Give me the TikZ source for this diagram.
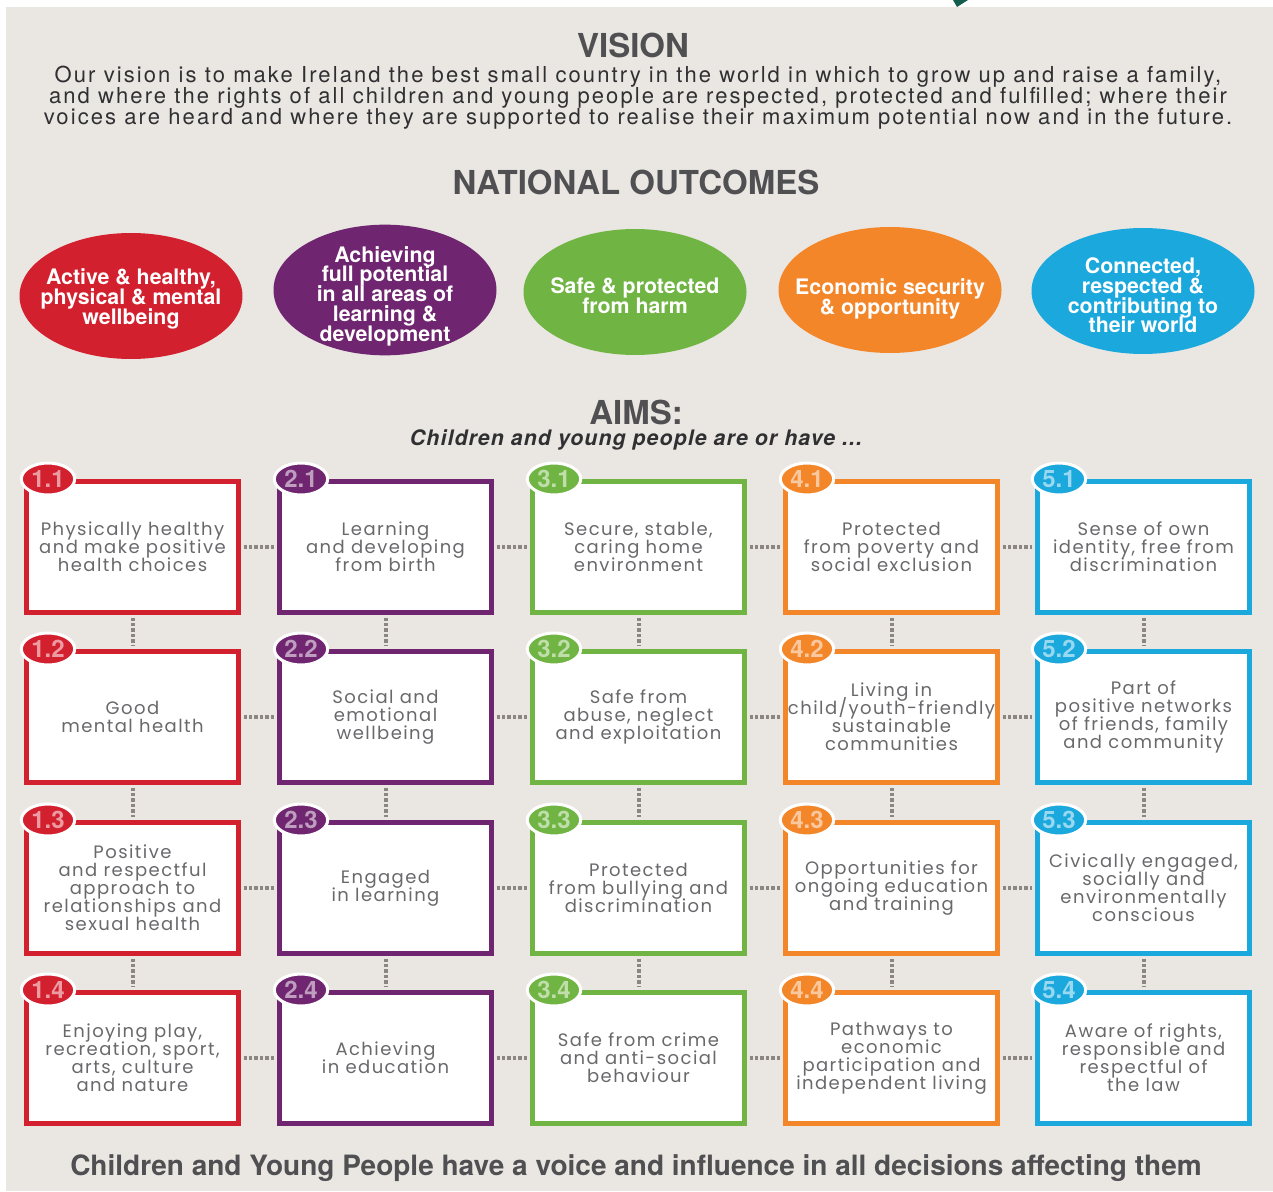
\documentclass[tikz,border=0pt]{standalone}
\usepackage{fontspec}
\usetikzlibrary{shapes.geometric}

\setmainfont{TeX Gyre Heros}
\newfontfamily\bodyfont[LetterSpace=9.5]{TeX Gyre Heros}
\newfontfamily\subfont[LetterSpace=5]{TeX Gyre Heros}
\newfontfamily\gothfont[LetterSpace=8]{Poppins}
\newcommand\tightlines{\lineskiplimit -8pt\relax}

\definecolor{bggrey}{RGB}{234,231,227}
\definecolor{headgrey}{RGB}{80,80,83}
\definecolor{bodygrey}{RGB}{48,48,50}
\definecolor{boxgrey}{RGB}{105,105,108}
\definecolor{dotgrey}{RGB}{140,134,128}
\definecolor{cteal}{RGB}{20,92,76}
\definecolor{cred}{RGB}{211,32,47}
\definecolor{cpurple}{RGB}{111,37,111}
\definecolor{cgreen}{RGB}{112,181,67}
\definecolor{corange}{RGB}{244,134,42}
\definecolor{cblue}{RGB}{27,168,221}

\tikzset{
  heading/.style={text=headgrey, font=\bfseries\fontsize{24.75}{24.75}\selectfont},
  outcome/.style={ellipse, fill=#1, minimum width=167.25pt, minimum height=94.5pt, inner sep=0pt},
  outtext/.style={text=white, align=center, inner sep=0pt,
    font={\bfseries\fontsize{16}{14.8}\selectfont\tightlines}},
  aimbox/.style={rectangle, draw=#1, fill=white, line width=3.75pt, minimum width=159pt, minimum height=98.25pt,
    inner sep=0pt, align=center, text=boxgrey, font={\gothfont\fontsize{13.5}{13.5}\selectfont\tightlines}},
  badge/.style={ellipse, fill=#1, draw=white, line width=2.25pt, minimum width=40pt, minimum height=24pt,
    inner sep=0pt, text=#1!45!white, font=\bfseries\fontsize{18}{18}\selectfont},
  link/.style={draw=dotgrey, line width=3pt, dash pattern=on 2.6pt off 1.5pt, shorten <=1.9pt, shorten >=1.9pt},
}

\begin{document}
\begin{tikzpicture}[x=0.75pt,y=0.75pt,yscale=-1,xscale=1]
\useasboundingbox (0,0) rectangle (1273,1191);
%Background
\fill [bggrey] (6,7) rectangle (1273,1191);
%Shape: corner mark
\fill [cteal] (953,0) -- (968,0) -- (957,7) -- cycle;

% Text Node
\node [heading] (vision) at (633,45) {VISION};
% Text Node
\node [text=bodygrey, align=center, font={\bodyfont\fontsize{16.5}{15.75}\selectfont\tightlines}] (visiontext) at (638,98)
  {Our vision is to make Ireland the best small country in the world in which to grow up and raise a family,\\
   and where the rights of all children and young people are respected, protected and fulfilled; where their\\
   voices are heard and where they are supported to realise their maximum potential now and in the future.};
% Text Node
\node [heading] (outcomes) at (636,182) {NATIONAL OUTCOMES};

%Shape: Ellipse
\node [outcome=cred] (o1) at (131,296) {};
\node [outtext] (t1) at ([yshift=2.25pt]o1) {Active \& healthy,\\physical \& mental\\wellbeing};
%Shape: Ellipse
\node [outcome=cpurple, minimum height=98pt] (o2) at (385,290) {};
\node [outtext] (t2) at ([yshift=4.5pt]o2) {Achieving\\full potential\\in all areas of\\learning \&\\development};
%Shape: Ellipse
\node [outcome=cgreen] (o3) at (635,292) {};
\node [outtext] (t3) at ([yshift=3pt]o3) {Safe \& protected\\from harm};
%Shape: Ellipse
\node [outcome=corange] (o4) at (890,290) {};
\node [outtext] (t4) at ([yshift=6.5pt]o4) {Economic security\\\& opportunity};
%Shape: Ellipse
\node [outcome=cblue] (o5) at (1143,291) {};
\node [outtext] (t5) at ([yshift=3.4pt]o5) {Connected,\\respected \&\\contributing to\\their world};

% Text Node
\node [heading] (aims) at (636,412) {AIMS:};
% Text Node
\node [text=bodygrey, font={\subfont\bfseries\itshape\fontsize{16}{16}\selectfont}] (aimsub) at (636,440)
  {Children and young people are or have ...};

%Aims: row 1
\node [aimbox=cred] (b11) at (132.5,547) {Physically healthy\\and make positive\\health choices};
\node [aimbox=cpurple] (b21) at (385.5,547) {Learning\\and developing\\from birth};
\node [aimbox=cgreen] (b31) at (638.5,547) {Secure, stable,\\caring home\\environment};
\node [aimbox=corange] (b41) at (891.5,547) {Protected\\from poverty and\\social exclusion};
\node [aimbox=cblue] (b51) at (1143.5,547) {Sense of own\\identity, free from\\discrimination};
%Aims: row 2
\node [aimbox=cred] (b12) at (132.5,717) {Good\\mental health};
\node [aimbox=cpurple] (b22) at (385.5,717) {Social and\\emotional\\wellbeing};
\node [aimbox=cgreen] (b32) at (638.5,717) {Safe from\\abuse, neglect\\and exploitation};
\node [aimbox=corange] (b42) at (891.5,717) {Living in\\child/youth-friendly\\sustainable\\communities};
\node [aimbox=cblue] (b52) at (1143.5,717) {Part of\\positive networks\\of friends, family\\and community};
%Aims: row 3
\node [aimbox=cred] (b13) at (132.5,888) {Positive\\and respectful\\approach to\\relationships and\\sexual health};
\node [aimbox=cpurple] (b23) at (385.5,888) {Engaged\\in learning};
\node [aimbox=cgreen] (b33) at (638.5,888) {Protected\\from bullying and\\discrimination};
\node [aimbox=corange] (b43) at (891.5,888) {Opportunities for\\ongoing education\\and training};
\node [aimbox=cblue] (b53) at (1143.5,888) {Civically engaged,\\socially and\\environmentally\\conscious};
%Aims: row 4
\node [aimbox=cred] (b14) at (132.5,1058) {Enjoying play,\\recreation, sport,\\arts, culture\\and nature};
\node [aimbox=cpurple] (b24) at (385.5,1058) {Achieving\\in education};
\node [aimbox=cgreen] (b34) at (638.5,1058) {Safe from crime\\and anti-social\\behaviour};
\node [aimbox=corange] (b44) at (891.5,1058) {Pathways to\\economic\\participation and\\independent living};
\node [aimbox=cblue] (b54) at (1143.5,1058) {Aware of rights,\\responsible and\\respectful of\\the law};

%Badges
\node [badge=cred] (n11) at ([xshift=18pt]b11.north west) {1.1};
\node [badge=cpurple] (n21) at ([xshift=18pt]b21.north west) {2.1};
\node [badge=cgreen] (n31) at ([xshift=18pt]b31.north west) {3.1};
\node [badge=corange] (n41) at ([xshift=18pt]b41.north west) {4.1};
\node [badge=cblue] (n51) at ([xshift=18pt]b51.north west) {5.1};
\node [badge=cred] (n12) at ([xshift=18pt]b12.north west) {1.2};
\node [badge=cpurple] (n22) at ([xshift=18pt]b22.north west) {2.2};
\node [badge=cgreen] (n32) at ([xshift=18pt]b32.north west) {3.2};
\node [badge=corange] (n42) at ([xshift=18pt]b42.north west) {4.2};
\node [badge=cblue] (n52) at ([xshift=18pt]b52.north west) {5.2};
\node [badge=cred] (n13) at ([xshift=18pt]b13.north west) {1.3};
\node [badge=cpurple] (n23) at ([xshift=18pt]b23.north west) {2.3};
\node [badge=cgreen] (n33) at ([xshift=18pt]b33.north west) {3.3};
\node [badge=corange] (n43) at ([xshift=18pt]b43.north west) {4.3};
\node [badge=cblue] (n53) at ([xshift=18pt]b53.north west) {5.3};
\node [badge=cred] (n14) at ([xshift=18pt]b14.north west) {1.4};
\node [badge=cpurple] (n24) at ([xshift=18pt]b24.north west) {2.4};
\node [badge=cgreen] (n34) at ([xshift=18pt]b34.north west) {3.4};
\node [badge=corange] (n44) at ([xshift=18pt]b44.north west) {4.4};
\node [badge=cblue] (n54) at ([xshift=18pt]b54.north west) {5.4};

%Links across
\draw [link] (b11) -- (b21); \draw [link] (b21) -- (b31); \draw [link] (b31) -- (b41); \draw [link] (b41) -- (b51);
\draw [link] (b12) -- (b22); \draw [link] (b22) -- (b32); \draw [link] (b32) -- (b42); \draw [link] (b42) -- (b52);
\draw [link] (b13) -- (b23); \draw [link] (b23) -- (b33); \draw [link] (b33) -- (b43); \draw [link] (b43) -- (b53);
\draw [link] (b14) -- (b24); \draw [link] (b24) -- (b34); \draw [link] (b34) -- (b44); \draw [link] (b44) -- (b54);
%Links down
\draw [link] (b11) -- (b12); \draw [link] (b12) -- (b13); \draw [link] (b13) -- (b14);
\draw [link] (b21) -- (b22); \draw [link] (b22) -- (b23); \draw [link] (b23) -- (b24);
\draw [link] (b31) -- (b32); \draw [link] (b32) -- (b33); \draw [link] (b33) -- (b34);
\draw [link] (b41) -- (b42); \draw [link] (b42) -- (b43); \draw [link] (b43) -- (b44);
\draw [link] (b51) -- (b52); \draw [link] (b52) -- (b53); \draw [link] (b53) -- (b54);

% Text Node
\node [text=headgrey, font=\bfseries\fontsize{21}{21}\selectfont] (voice) at (636,1168)
  {Children and Young People have a voice and influence in all decisions affecting them};

\end{tikzpicture}
\end{document}
